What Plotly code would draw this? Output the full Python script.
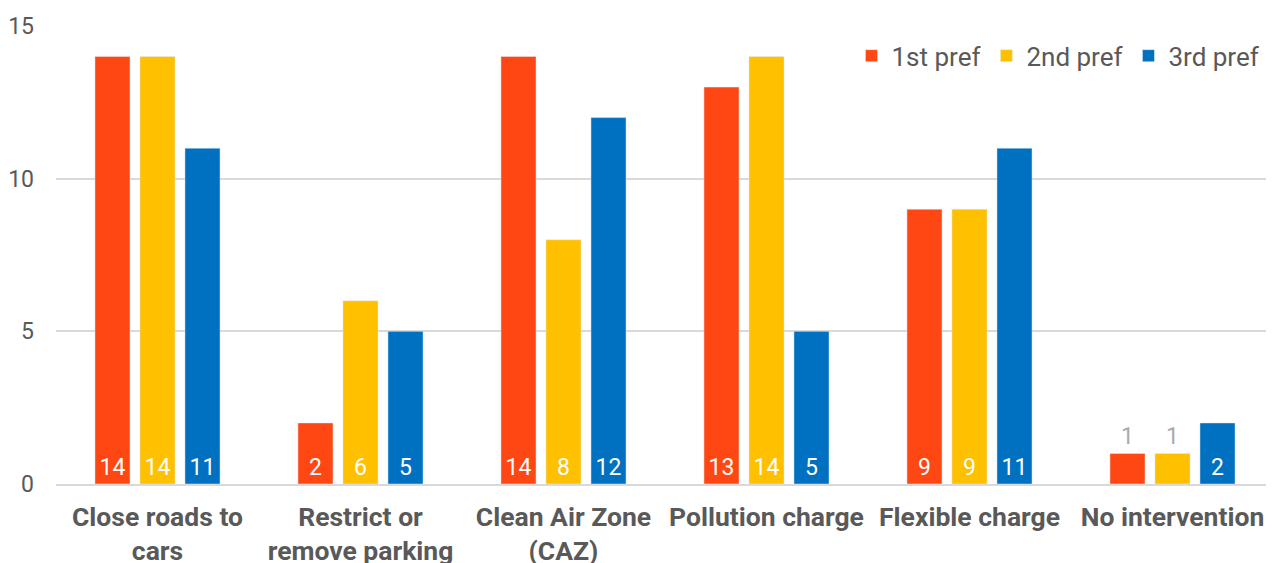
import plotly.graph_objects as go

categories = ["Close roads to<br>cars", "Restrict or<br>remove parking", "Clean Air Zone<br>(CAZ)",
              "Pollution charge", "Flexible charge", "No intervention"]
series_names = ["1st pref", "2nd pref", "3rd pref"]
first_pref = [14, 2, 14, 13, 9, 1]
second_pref = [14, 6, 8, 14, 9, 1]
third_pref = [11, 5, 12, 5, 11, 2]
colors = ["#FF4713", "#FFC000", "#0070C0"]
y_ticks = [0, 5, 10, 15]

fig = go.Figure()
for name, vals, col in zip(series_names, [first_pref, second_pref, third_pref], colors):
    pos = ["outside" if v < 2 else "inside" for v in vals]
    fig.add_trace(go.Bar(
        x=categories, y=vals, name=name, marker_color=col,
        text=[str(v) for v in vals], textposition=pos,
        insidetextanchor="start", textangle=0,
        outsidetextfont=dict(color="#AAAAAA", size=23, family="Roboto"),
        insidetextfont=dict(color="white", size=23, family="Roboto"),
        cliponaxis=False,
    ))

fig.update_layout(
    width=1266, height=555,
    margin=dict(l=48, r=0, t=18, b=79),
    barmode="group", bargap=0.335, bargroupgap=0.22,
    plot_bgcolor="white", paper_bgcolor="white",
    font=dict(family="Roboto", color="#595959"),
    uniformtext=dict(minsize=10, mode="show"),
    legend=dict(orientation="h", x=0.993, xanchor="right", y=0.935, yanchor="middle",
                font=dict(size=26, color="#595959"), bgcolor="rgba(0,0,0,0)",
                itemwidth=30, tracegroupgap=0),
    xaxis=dict(tickfont=dict(size=26.5, color="#595959", family="Roboto", weight="bold"),
               showgrid=False, ticklabelstandoff=8, automargin=False,
               showline=True, linecolor="#D9D9D9", linewidth=2),
    yaxis=dict(range=[0, 15], tickvals=y_ticks, tickfont=dict(size=23, color="#595959"),
               showgrid=True, gridcolor="#D9D9D9", gridwidth=1.5, zeroline=False,
               ticklabelstandoff=21, automargin=False),
)
fig.write_html("out.html")
